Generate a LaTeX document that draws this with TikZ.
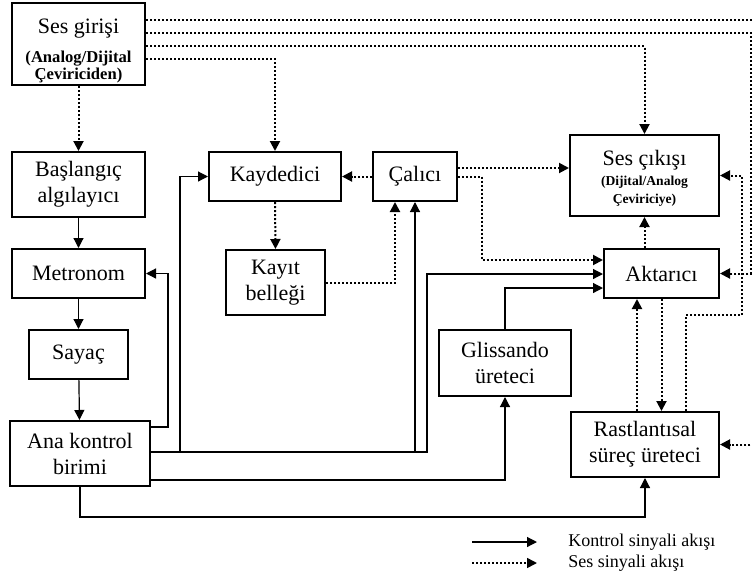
\documentclass[tikz,border=0pt]{standalone}
\usepackage{fontspec}
\setmainfont{Liberation Serif}
\usetikzlibrary{arrows.meta,positioning}
\newcommand{\girfont}{\fontsize{8.3}{9}\selectfont\bfseries}
\newcommand{\cevfont}{\fontsize{6.8}{8}\selectfont\bfseries}
\newcommand{\lgdfont}{\fontsize{9}{11}\selectfont}

\begin{document}
\begin{tikzpicture}[x=0.5pt,y=-0.5pt]
    \tikzset{block/.style = {shape=rectangle,draw,line width=1pt,align=center,inner sep=1pt,font=\fontsize{11}{13}\selectfont}}
    \tikzset{ctrl/.style = {-{Triangle[length=5pt,width=5pt]},line width=0.6pt}}
    \tikzset{audio/.style = {-{Triangle[length=5pt,width=5pt]},line width=1pt,dash pattern=on 1pt off 1pt}}
    \useasboundingbox (0,0) rectangle (752,575);
    % blocks
    \node[block,minimum width=66.5pt,minimum height=39pt] (giris) at (78.5,44) {\rule{0pt}{14.5pt}Ses girişi\\[1.5pt]{\girfont (Analog/Dijital}\\[-4.5pt]{\girfont Çeviriciden)}};
    \node[block,minimum width=66.5pt,minimum height=32.5pt] (baslangic) at (78.5,184.5) {Başlangıç\\algılayıcı};
    \node[block,minimum width=66.5pt,minimum height=24.5pt] (metronom) at (78.5,273.5) {Metronom};
    \node[block,minimum width=49.5pt,minimum height=24.5pt] (sayac) at (78.5,354.5) {Sayaç};
    \node[block,minimum width=70pt,minimum height=32.5pt] (ana) at (80,453.5) {Ana kontrol\\birimi};
    \node[block,minimum width=66pt,minimum height=24.5pt] (kaydedici) at (275,176.5) {Kaydedici};
    \node[block,minimum width=49.5pt,minimum height=32.5pt] (kayit) at (275.5,282.5) {Kayıt\\belleği};
    \node[block,minimum width=42pt,minimum height=24.5pt] (calici) at (415,176.5) {Çalıcı};
    \node[block,minimum width=74.5pt,minimum height=40.5pt] (cikis) at (644.5,175.5) {\rule{0pt}{10.6pt}Ses çıkışı\\[-3pt]{\cevfont (Dijital/Analog}\\[-4pt]{\cevfont Çeviriciye)}};
    \node[block,minimum width=57.5pt,minimum height=24.5pt] (aktarici) at (661.5,273.5) {Aktarıcı};
    \node[block,minimum width=66pt,minimum height=33pt] (glissando) at (505,363) {Glissando\\üreteci};
    \node[block,minimum width=74pt,minimum height=32.5pt] (rast) at (645,444.5) {Rastlantısal\\süreç üreteci};
    % audio flow
    \draw[audio] (giris.east |- 0,20) -- (756,20) |- (rast.east);
    \draw[audio] (giris.east |- 0,33) -- (751,33) |- (aktarici.east);
    \draw[audio] (giris.east |- 0,46) -| (cikis.north);
    \draw[audio] (giris.east |- 0,59) -| (kaydedici.north);
    \draw[audio] (giris) -- (baslangic);
    \draw[audio] (kaydedici.south) -- (kayit.north);
    \draw[audio] (kayit) -| ([xshift=-10pt]calici.south);
    \draw[audio] (calici) -- (kaydedici);
    \draw[audio] (calici.east |- 0,168) -- (cikis.west |- 0,168);
    \draw[audio] (calici.east) -- (482,176.5) |- (aktarici.west |- 0,260);
    \draw[audio] (cikis.south |- aktarici.north) -- (cikis.south);
    \draw[audio] (rast.north -| 637,0) -- (aktarici.south -| 637,0);
    \draw[audio] (aktarici.south) -- (aktarici.south |- rast.north);
    \draw[audio] (rast.north -| 686,0) |- (742,315) |- (cikis.east);
    % control flow
    \draw[ctrl] (baslangic) -- (metronom);
    \draw[ctrl] (metronom) -- (sayac);
    \draw[ctrl] (sayac) -- (ana);
    \draw[ctrl] (ana.east |- 0,427) -- (168,427) |- (metronom.east);
    \draw[ctrl] (ana.east |- 0,452) -- (180,452) |- (kaydedici.west);
    \draw[ctrl] (ana.east |- 0,452) -| (calici.south);
    \draw[ctrl] (ana.east |- 0,452) -- (427,452) |- (aktarici.west |- 0,274);
    \draw[ctrl] (ana.east |- 0,480) -| (glissando.south);
    \draw[ctrl] (glissando.north) |- (aktarici.west |- 0,288);
    \draw[ctrl] (ana.south) -- (ana.south |- 0,517) -| (rast.south);
    % legend
    \coordinate (lk1) at (472,542);
    \coordinate (lk2) at (537,542);
    \coordinate (ls1) at (472,563);
    \coordinate (ls2) at (537,563);
    \draw[ctrl] (lk1) -- (lk2);
    \draw[audio,line width=0.8pt] (ls1) -- (ls2);
    \node[anchor=west,inner sep=0pt,font=\lgdfont] (lktxt) at (568,542) {Kontrol sinyali akışı};
    \node[anchor=west,inner sep=0pt,font=\lgdfont] (lstxt) at (568,563) {Ses sinyali akışı};
\end{tikzpicture}
\end{document}
